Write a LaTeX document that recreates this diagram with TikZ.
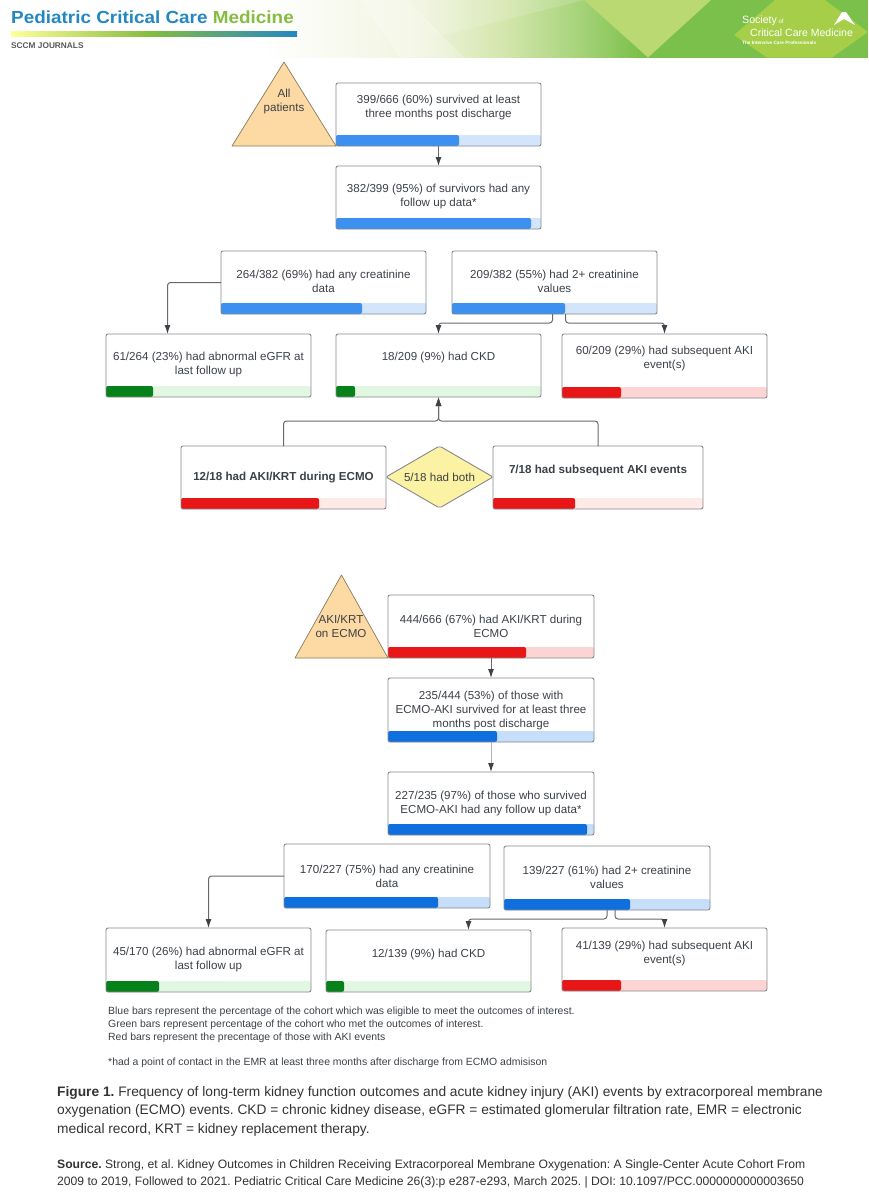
\documentclass[tikz,border=0pt]{standalone}
\usepackage{fontspec}
\setmainfont{Liberation Sans}
\newfontfamily\headfont[FakeStretch=1.08]{Liberation Sans}
\usetikzlibrary{arrows.meta,shapes.geometric}

\definecolor{boxtext}{HTML}{3C4148}
\definecolor{boxline}{HTML}{85888C}
\definecolor{linkline}{HTML}{66696D}
\definecolor{linkhead}{HTML}{3E4145}
\definecolor{wedge}{HTML}{FDD9A3}
\definecolor{wedgeline}{HTML}{8A7A5E}
\definecolor{both}{HTML}{FCF2A3}
\definecolor{skybar}{HTML}{3C90F0}
\definecolor{skyback}{HTML}{D2E5FA}
\definecolor{deepbar}{HTML}{0F6FDE}
\definecolor{deepback}{HTML}{C6DEF9}
\definecolor{greenbar}{HTML}{07811A}
\definecolor{greenback}{HTML}{E2F7E1}
\definecolor{redbar}{HTML}{E81616}
\definecolor{redback}{HTML}{FDD4D4}
\colorlet{palebar}{redbar}
\definecolor{paleback}{HTML}{FEEBE8}
\definecolor{journalblue}{HTML}{2388C2}
\definecolor{journalgreen}{HTML}{84BD3F}
\definecolor{bannera}{HTML}{F1F4DF}
\definecolor{bannerb}{HTML}{D3E6AC}
\definecolor{bannerc}{HTML}{A6D37A}
\definecolor{bannerd}{HTML}{7BC04A}
\definecolor{bannere}{HTML}{76BB3B}
\definecolor{bannerolive}{HTML}{BBD972}
\definecolor{bannerlogo}{HTML}{A6CE48}

\tikzset{
    frame/.style={draw=boxline, line width=0.9pt, rounded corners=2pt, inner sep=0pt, outer sep=0pt},
    boxlabel/.style={text=boxtext, align=center, font=\fontsize{11.6}{14}\selectfont},
    link/.style={draw=linkline, line width=1pt, rounded corners=3pt, -{Latex[length=9pt,width=6pt,color=linkhead]}},
    note/.style={anchor=west, inner sep=0pt, text=boxtext, font=\fontsize{10.45}{12}\selectfont},
    caption/.style={anchor=west, inner sep=0pt, text=black!80, font=\fontsize{13.75}{15}\selectfont},
    sourceline/.style={anchor=west, inner sep=0pt, text=black!80, font=\fontsize{12.15}{14}\selectfont}
}

% name, left, top, right, bottom, end of bar, colour, height of text, text
\newcommand{\barbox}[9]{
    \fill[#7back, rounded corners=2pt] (#2,#5-11) rectangle (#4,#5);
    \fill[#7bar, rounded corners=2pt] (#2,#5-11) rectangle (#6,#5);
    \node[frame, minimum width={(#4-#2)*1pt}, minimum height={(#5-#3)*1pt}] (#1) at ({(#2+#4)/2},{(#3+#5)/2}) {};
    \node[boxlabel] (#1text) at ({(#2+#4)/2},#8+1.5) {#9};
}

\begin{document}
\frenchspacing
\begin{tikzpicture}[x=1pt, y=-1pt]
    \useasboundingbox (0,0) rectangle (868,1200);
    \fill[white] (0,0) rectangle (868,1200);

    % banner
    \shade[left color=white, right color=bannera] (260,0) rectangle (420,57.5);
    \shade[left color=bannera, right color=bannerb] (420,0) rectangle (505,57.5);
    \shade[left color=bannerb, right color=bannerc] (505,0) rectangle (580,57.5);
    \shade[left color=bannerc, right color=bannerd] (580,0) rectangle (640,57.5);
    \fill[bannerd] (640,0) rectangle (868,57.5);
    \fill[white, opacity=0.25] (407,0) -- (464,57.5) -- (400,57.5) -- (360,0) -- cycle;
    \fill[white, opacity=0.15] (407,0) -- (584,0) -- (437,37) -- cycle;
    \fill[bannerolive] (584,0) -- (711,0) -- (648,57.5) -- cycle;
    \fill[bannerlogo] (734,35) -- (775,0) -- (825,0) -- (868,32) -- (832,57.5) -- (767,57.5) -- cycle;
    \fill[white] (842,12) -- (846,12) -- (855,25) -- (844,19) -- (834,25) -- cycle;
    \node[anchor=west, inner sep=0pt, text=white] (society) at (742,21) {\fontsize{10.6}{12}\selectfont Society\fontsize{6}{7}\selectfont\ of};
    \node[anchor=west, inner sep=0pt, text=white] (sccm) at (750,33) {\fontsize{10.5}{12}\selectfont Critical Care Medicine};
    \node[anchor=west, inner sep=0pt, text=white] (tagline) at (742,43) {\fontsize{4.7}{5}\selectfont\bfseries The Intensive Care Professionals};
    \node[anchor=west, inner sep=0pt] (journal) at (11,17) {\headfont\fontsize{17.5}{20}\selectfont\bfseries\textcolor{journalblue}{Pediatric Critical Care} \textcolor{journalgreen}{Medicine}};
    \shade[left color=yellow!40!white, right color=journalgreen] (11,31) rectangle (150,36);
    \shade[left color=journalgreen, right color=journalblue] (150,31) rectangle (297,36);
    \node[anchor=west, inner sep=0pt, text=black!65] (series) at (11,46) {\fontsize{8.3}{9}\selectfont\bfseries SCCM JOURNALS};

    % all patients
    \draw[fill=wedge, draw=wedgeline, line width=0.7pt, line join=round] (284,62) -- (336,146) -- (232,146) -- cycle;
    \node[boxlabel] (allpatients) at (284,101) {All\\patients};
    \barbox{survived}{336}{83}{541}{146}{459}{sky}{106}{399/666 (60\%) survived at least\\three months post discharge}
    \barbox{followup}{336}{166}{541}{229}{531}{sky}{195}{382/399 (95\%) of survivors had any\\follow up data*}
    \barbox{anycreat}{221}{251}{426}{314}{362}{sky}{280}{264/382 (69\%) had any creatinine\\data}
    \barbox{twocreat}{452}{251}{657}{314}{565}{sky}{280}{209/382 (55\%) had 2+ creatinine\\values}
    \barbox{egfr}{106}{334}{311}{397}{153}{green}{363}{61/264 (23\%) had abnormal eGFR at\\last follow up}
    \barbox{ckd}{336}{334}{541}{397}{355}{green}{356}{18/209 (9\%) had CKD}
    \barbox{laterevent}{562}{334}{767}{398}{621}{red}{357}{60/209 (29\%) had subsequent AKI\\event(s)}
    \barbox{duringecmo}{181}{446}{386}{509}{319}{pale}{476}{\bfseries 12/18 had AKI/KRT during ECMO}
    \barbox{subsequent}{493}{446}{703}{509}{575}{pale}{469}{\bfseries 7/18 had subsequent AKI events}
    \node[frame, diamond, aspect=1.72, fill=both, text=boxtext, minimum width=107pt, minimum height=62pt, font=\fontsize{11.6}{14}\selectfont] (bothnode) at (439.5,477) {5/18 had both};

    \draw[link] (survived) -- (followup);
    \draw[link] (anycreat.west) -| ([xshift=-41pt]egfr.north);
    \draw[link] ([xshift=-2pt]twocreat.south) -- ++(0,9) -| (ckd.north);
    \draw[link] ([xshift=11pt]twocreat.south) -- ++(0,9) -| (laterevent.north);
    \draw[link] (duringecmo.north) -- ++(0,-25) -| (ckd.south);
    \draw[link] (subsequent.north) -- ++(0,-25) -| (ckd.south);

    % aki on ecmo
    \draw[fill=wedge, draw=wedgeline, line width=0.7pt, line join=round] (341.5,575) -- (388,658) -- (295,658) -- cycle;
    \node[boxlabel] (akiecmo) at (341,626) {AKI/KRT\\on ECMO};
    \barbox{aki}{388}{595}{594}{658}{526}{red}{625}{444/666 (67\%) had AKI/KRT during\\ECMO}
    \barbox{akisurvived}{388}{678}{594}{742}{497}{deep}{709}{235/444 (53\%) of those with\\ECMO-AKI survived for at least three\\months post discharge}
    \barbox{akifollowup}{388}{772}{594}{835}{587}{deep}{802}{227/235 (97\%) of those who survived\\ECMO-AKI had any follow up data*}
    \barbox{akianycreat}{284}{844}{490}{908}{438}{deep}{875}{170/227 (75\%) had any creatinine\\data}
    \barbox{akitwocreat}{504}{846}{710}{910}{630}{deep}{876}{139/227 (61\%) had 2+ creatinine\\values}
    \barbox{akiegfr}{106}{928}{311}{992}{159}{green}{958}{45/170 (26\%) had abnormal eGFR at\\last follow up}
    \barbox{akickd}{326}{930}{531}{992}{344}{green}{953}{12/139 (9\%) had CKD}
    \barbox{akilater}{562}{928}{767}{991}{621}{red}{952}{41/139 (29\%) had subsequent AKI\\event(s)}

    \draw[link] (aki) -- (akisurvived);
    \draw[link, draw=black!30] (akisurvived) -- (akifollowup);
    \draw[link] (akianycreat.west) -| (akiegfr.north);
    \draw[link] (akitwocreat.south) -- ++(0,9) -| ([xshift=40pt]akickd.north);
    \draw[link] ([xshift=8pt]akitwocreat.south) -- ++(0,9) -| (akilater.north);

    % legend
    \node[note] (bluenote) at (108,1012) {Blue bars represent the percentage of the cohort which was eligible to meet the outcomes of interest.};
    \node[note] (greennote) at (108,1025) {Green bars represent percentage of the cohort who met the outcomes of interest.};
    \node[note] (rednote) at (108,1038) {Red bars represent the precentage of those with AKI events};
    \node[note] (starnote) at (108,1063) {*had a point of contact in the EMR at least three months after discharge from ECMO admisison};

    % caption
    \node[caption] (figline) at (57,1093) {\textbf{Figure 1.} Frequency of long-term kidney function outcomes and acute kidney injury (AKI) events by extracorporeal membrane};
    \node[caption] (figlinetwo) at (57,1111) {oxygenation (ECMO) events. CKD = chronic kidney disease, eGFR = estimated glomerular filtration rate, EMR = electronic};
    \node[caption] (figlinethree) at (57,1130) {medical record, KRT = kidney replacement therapy.};
    \node[sourceline] (source) at (57,1165) {\textbf{Source.} Strong, et al. Kidney Outcomes in Children Receiving Extracorporeal Membrane Oxygenation: A Single-Center Acute Cohort From};
    \node[sourceline] (sourcetwo) at (57,1182) {2009 to 2019, Followed to 2021. Pediatric Critical Care Medicine 26(3):p e287-e293, March 2025. | DOI: 10.1097/PCC.0000000000003650};
\end{tikzpicture}
\end{document}
